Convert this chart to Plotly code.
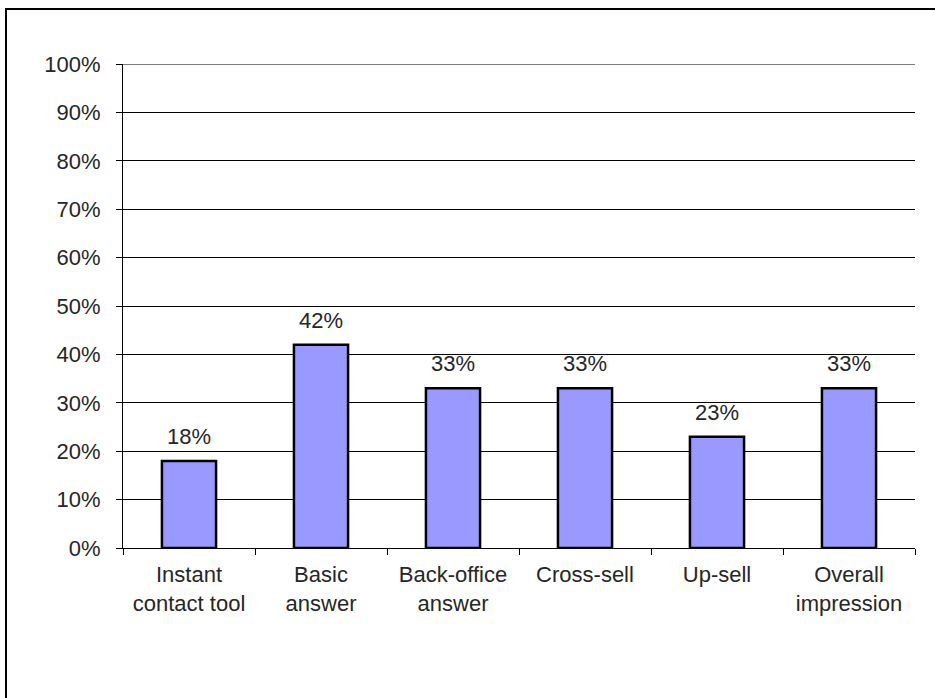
import plotly.graph_objects as go

categories = ["Instant<br>contact tool", "Basic<br>answer", "Back-office<br>answer",
              "Cross-sell", "Up-sell", "Overall<br>impression"]
shares = [0.18, 0.42, 0.33, 0.33, 0.23, 0.33]
y_ticks = [i / 10 for i in range(11)]
y_tick_labels = [f"{i * 10}%" for i in range(11)]

W, H = 935, 698
L, R, T, B = 123, 20, 64, 150
FONT = dict(family="Liberation Sans, Arial, sans-serif", size=22, color="#262626")

fig = go.Figure()
fig.add_trace(go.Bar(
    x=categories,
    y=shares,
    width=0.41,
    marker=dict(color="#9999FF", line=dict(color="#000000", width=2.5)),
    hoverinfo="skip",
))

# value labels above each bar
for c, v in zip(categories, shares):
    fig.add_annotation(
        x=c, y=v, text=f"{round(v * 100)}%", showarrow=False,
        yanchor="bottom", yshift=10, font=FONT,
    )

# top gridline at 100%
fig.add_shape(
    type="line", xref="paper", yref="y", x0=0, x1=1, y0=1, y1=1,
    line=dict(color="#000000", width=1), layer="below",
)

# outer frame of the chart area
px = W - L - R
py = H - T - B
fig.add_shape(
    type="rect", xref="paper", yref="paper",
    x0=(6 - L) / px, x1=1.2, y0=-0.5, y1=(H - B - 9) / py,
    line=dict(color="#000000", width=2), fillcolor="rgba(0,0,0,0)", layer="below",
)

fig.update_layout(
    width=W, height=H,
    margin=dict(l=L, r=R, t=T, b=B),
    paper_bgcolor="#ffffff", plot_bgcolor="#ffffff",
    showlegend=False,
    font=FONT,
    bargap=0.59,
)
fig.update_xaxes(
    showline=True, linecolor="#000000", linewidth=1,
    ticks="outside", tickson="boundaries", ticklen=6, tickcolor="#000000",
    showgrid=False, tickfont=FONT, ticklabelstandoff=7,
)
fig.update_yaxes(
    range=[0, 1], tickvals=y_ticks, ticktext=y_tick_labels,
    showline=True, linecolor="#000000", linewidth=1,
    ticks="outside", ticklen=6, tickcolor="#000000",
    showgrid=True, gridcolor="#000000", gridwidth=1,
    zeroline=False, tickfont=FONT, ticklabelstandoff=11,
)

fig.write_html("out.html")
